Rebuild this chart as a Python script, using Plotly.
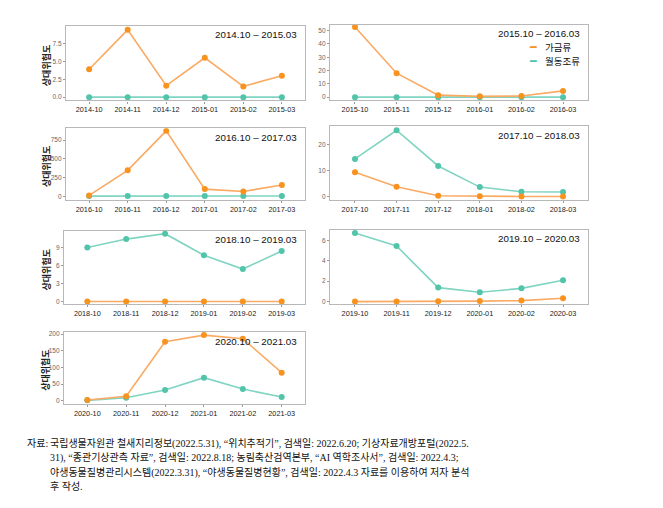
import plotly.graph_objects as go

W, H = 663, 508
OFF = 8  # page body margin

# ---- data ----
periods = ["2014.10 – 2015.03", "2015.10 – 2016.03", "2016.10 – 2017.03",
           "2017.10 – 2018.03", "2018.10 – 2019.03", "2019.10 – 2020.03",
           "2020.10 – 2021.03"]
months_1 = ["2014-10", "2014-11", "2014-12", "2015-01", "2015-02", "2015-03"]
months_2 = ["2015-10", "2015-11", "2015-12", "2016-01", "2016-02", "2016-03"]
months_3 = ["2016-10", "2016-11", "2016-12", "2017-01", "2017-02", "2017-03"]
months_4 = ["2017-10", "2017-11", "2017-12", "2018-01", "2018-02", "2018-03"]
months_5 = ["2018-10", "2018-11", "2018-12", "2019-01", "2019-02", "2019-03"]
months_6 = ["2019-10", "2019-11", "2019-12", "2020-01", "2020-02", "2020-03"]
months_7 = ["2020-10", "2020-11", "2020-12", "2021-01", "2021-02", "2021-03"]

poultry_1 = [3.9, 9.4, 1.6, 5.5, 1.5, 3.0]
wild_1 = [0.0, 0.0, 0.0, 0.0, 0.0, 0.0]
poultry_2 = [52.7, 18.0, 1.5, 0.6, 0.8, 4.7]
wild_2 = [0.0, 0.0, 0.0, 0.0, 0.0, 0.0]
poultry_3 = [14, 348, 872, 98, 67, 152]
wild_3 = [5, 5, 6, 6, 6, 6]
poultry_4 = [9.5, 3.9, 0.5, 0.25, 0.2, 0.2]
wild_4 = [14.6, 25.6, 11.9, 3.8, 2.0, 1.9]
poultry_5 = [0.0, 0.0, 0.0, 0.0, 0.0, 0.0]
wild_5 = [9.0, 10.4, 11.3, 7.7, 5.4, 8.4]
poultry_6 = [0.0, 0.0, 0.03, 0.05, 0.1, 0.33]
wild_6 = [6.72, 5.45, 1.37, 0.91, 1.3, 2.09]
poultry_7 = [2, 13, 177, 197, 186, 84]
wild_7 = [1, 9, 32, 69, 35, 11]

series_names = ["가금류", "월동조류"]
y_label = "상대위험도"

y_ticks = [[0, 2.5, 5.0, 7.5], [0, 10, 20, 30, 40, 50], [0, 250, 500, 750],
           [0, 10, 20], [0, 3, 6, 9], [0, 2, 4, 6], [0, 50, 100, 150, 200]]
y_ticklabels = [["0.0", "2.5", "5.0", "7.5"], None, None, None, None, None, None]
y_ranges = [[-0.46, 9.95], [-2.5, 54.3], [-45, 906], [-1.1, 27.1],
            [-0.46, 11.8], [-0.26, 7.05], [-9, 206]]

source_label = "자료:"
source_lines = [
    "국립생물자원관 철새지리정보(2022.5.31), “위치추적기”, 검색일: 2022.6.20; 기상자료개방포털(2022.5.",
    "31), “종관기상관측 자료”, 검색일: 2022.8.18; 농림축산검역본부, “AI 역학조사서”, 검색일: 2022.4.3;",
    "야생동물질병관리시스템(2022.3.31), “야생동물질병현황”, 검색일: 2022.4.3 자료를 이용하여 저자 분석",
    "후 작성.",
]

months = [months_1, months_2, months_3, months_4, months_5, months_6, months_7]
poultry = [poultry_1, poultry_2, poultry_3, poultry_4, poultry_5, poultry_6, poultry_7]
wild = [wild_1, wild_2, wild_3, wild_4, wild_5, wild_6, wild_7]

# ---- layout geometry (page pixels) ----
panel_px = [
    (66, 305, 24, 99), (330, 588, 23, 99),
    (66, 305, 127, 199), (330, 588, 125, 199),
    (64, 305, 230, 304), (330, 588, 229, 304),
    (64, 305, 332, 404),
]

ORANGE_L, ORANGE_M = "#FAAA63", "#F7931E"
TEAL_L, TEAL_M = "#7FD4C2", "#52C4AA"
BOX = "#B8B8B8"
TICKFONT = "Liberation Sans"
KFONT = "Noto Sans CJK KR"

def px2x(p):
    return (p - OFF) / W

def px2y(p):
    return 1 - (p - OFF) / H

fig = go.Figure()
layout = {}
annotations = []

for i in range(7):
    n = i + 1
    xa = "x" if n == 1 else f"x{n}"
    ya = "y" if n == 1 else f"y{n}"
    xl, xr, yt, yb = panel_px[i]
    fig.add_trace(go.Scatter(
        x=months[i], y=wild[i], mode="lines+markers", xaxis=xa, yaxis=ya,
        line=dict(color=TEAL_L, width=1.6), marker=dict(color=TEAL_M, size=6),
        showlegend=False, name=series_names[1]))
    fig.add_trace(go.Scatter(
        x=months[i], y=poultry[i], mode="lines+markers", xaxis=xa, yaxis=ya,
        line=dict(color=ORANGE_L, width=1.6), marker=dict(color=ORANGE_M, size=6),
        showlegend=False, name=series_names[0]))
    xkey = "xaxis" if n == 1 else f"xaxis{n}"
    ykey = "yaxis" if n == 1 else f"yaxis{n}"
    layout[xkey] = dict(
        domain=[px2x(xl), px2x(xr)], anchor=ya, type="category",
        range=[-0.6, 5.6], showline=True, mirror=True, linecolor=BOX, linewidth=1.3,
        showgrid=False, zeroline=False, ticks="outside", ticklen=2, tickcolor="#999",
        tickfont=dict(family=TICKFONT, size=7.3, color="#222"), fixedrange=True)
    yd = dict(
        domain=[px2y(yb), px2y(yt)], anchor=xa, range=y_ranges[i],
        showline=True, mirror=True, linecolor=BOX, linewidth=1.3,
        showgrid=False, zeroline=False, ticks="outside", ticklen=2, tickcolor="#999",
        tickvals=y_ticks[i], tickfont=dict(family=TICKFONT, size=6.5, color="#666"),
        fixedrange=True)
    if y_ticklabels[i] is not None:
        yd["ticktext"] = y_ticklabels[i]
    layout[ykey] = yd
    # period title
    annotations.append(dict(
        x=px2x(xr - 6), y=px2y(yt + 9), xref="paper", yref="paper",
        xanchor="right", yanchor="middle", text=periods[i], showarrow=False,
        font=dict(family="Liberation Sans", size=9.8, color="#111")))
    # y label for left column
    if i % 2 == 0:
        annotations.append(dict(
            x=px2x(46), y=px2y((yt + yb) / 2 + 3), xref="paper", yref="paper",
            xanchor="center", yanchor="middle", text="<b>" + y_label + "</b>",
            textangle=-90, showarrow=False,
            font=dict(family=KFONT, size=9, color="#222")))

# legend (line keys + labels) inside panel 2
leg_colors = [ORANGE_M, TEAL_M]
for k in range(2):
    yy = 45.5 + 14 * k
    annotations.append(dict(
        x=px2x(533), y=px2y(yy), xref="paper", yref="paper",
        xanchor="center", yanchor="middle", text="━", showarrow=False,
        font=dict(family="DejaVu Sans", size=11, color=leg_colors[k])))
    annotations.append(dict(
        x=px2x(543), y=px2y(yy), xref="paper", yref="paper",
        xanchor="left", yanchor="middle", text=series_names[k], showarrow=False,
        font=dict(family=KFONT, size=9.5, color="#111")))

# source note
annotations.append(dict(
    x=px2x(25), y=px2y(444), xref="paper", yref="paper", xanchor="left",
    yanchor="middle", text=source_label, showarrow=False,
    font=dict(family="Liberation Serif, Noto Sans CJK KR", size=10, color="#111")))
for k, line in enumerate(source_lines):
    annotations.append(dict(
        x=px2x(48), y=px2y(444 + k * 14.5), xref="paper", yref="paper",
        xanchor="left", yanchor="middle", text=line, showarrow=False,
        font=dict(family="Liberation Serif, Noto Sans CJK KR", size=10, color="#111")))

fig.update_layout(
    width=W, height=H, margin=dict(l=0, r=0, t=0, b=0),
    paper_bgcolor="white", plot_bgcolor="white",
    annotations=annotations,
    showlegend=False,
    **layout)

fig.write_html("out.html")
